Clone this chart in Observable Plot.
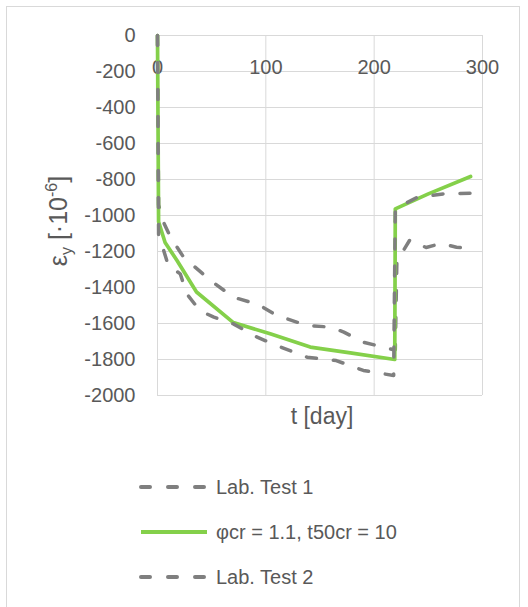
<!DOCTYPE html>
<html>
<head>
<meta charset="utf-8">
<script src="https://cdn.jsdelivr.net/npm/d3@7"></script>
<script src="https://cdn.jsdelivr.net/npm/@observablehq/plot@0.6"></script>
<style>
  html, body { margin: 0; padding: 0; background: #fff; }
  #wrap { position: relative; width: 528px; height: 607px; overflow: hidden; font-family: "Liberation Sans", Arial, sans-serif; color: #595959; }
  #frame { position: absolute; left: 6px; top: 6px; width: 514px; height: 620px; border: 1px solid #d9d9d9; box-sizing: border-box; }
  #chart { position: absolute; left: 0; top: 0; }
  #legend { position: absolute; left: 139px; top: 470px; }
  .row { position: absolute; left: 0; height: 34px; white-space: nowrap; }
  .row svg { position: absolute; left: 0; top: 0; }
  .row span { position: absolute; left: 77px; top: 5px; font-size: 20px; line-height: 24px; }
</style>
</head>
<body>
<div id="wrap">
  <div id="frame"></div>
  <div id="chart"></div>
  <div id="legend"></div>
</div>
<script>
// ---- data (t in days, strain in 1e-6) ----
const test1T = [0, 0.5, 1, 5, 12, 24, 49, 70, 85, 92, 110, 138, 160, 172, 190, 218, 219.5, 221, 227, 233, 248, 262, 276, 283];
const test1V = [0, -500, -940, -1030, -1120, -1231, -1361, -1454, -1480, -1491, -1555, -1611, -1620, -1648, -1704, -1746, -1746, -1240, -1194, -1135, -1178, -1155, -1176, -1180];

const modelT = [0, 0.5, 1, 7, 18, 36, 70, 104, 141, 178, 219, 219.5, 250, 289];
const modelV = [0, -500, -1035, -1150, -1250, -1425, -1595, -1657, -1731, -1763, -1800, -963, -880, -783];

const test2T = [0, 0.5, 1, 6, 10, 21, 27, 39, 52, 70, 92, 110, 138, 165, 190, 218, 219.5, 240, 264, 289];
const test2V = [0, -500, -1110, -1200, -1278, -1324, -1435, -1528, -1565, -1602, -1676, -1722, -1787, -1806, -1861, -1889, -963, -898, -880, -876];

const seriesNames = ["Lab. Test 1", "φcr = 1.1, t50cr = 10", "Lab. Test 2"];
const xTicks = [0, 100, 200, 300];
const yTicks = [0, -200, -400, -600, -800, -1000, -1200, -1400, -1600, -1800, -2000];

const toRows = (ts, vs, name) => ts.map((t, i) => ({t, v: vs[i], name}));
const test1 = toRows(test1T, test1V, seriesNames[0]);
const model = toRows(modelT, modelV, seriesNames[1]);
const test2 = toRows(test2T, test2V, seriesNames[2]);

const grey = "#7f7f7f";
const green = "#84d04a";
const dash = "10,17";

const chart = Plot.plot({
  width: 528,
  height: 440,
  marginLeft: 157,
  marginRight: 46,
  marginTop: 35,
  marginBottom: 45,
  style: {fontFamily: "Liberation Sans, Arial, sans-serif", fontSize: "20px", color: "#595959", background: "transparent"},
  x: {domain: [0, 300]},
  y: {domain: [-2000, 0]},
  marks: [
    Plot.gridX(xTicks, {stroke: "#d9d9d9", strokeOpacity: 1, strokeWidth: 1}),
    Plot.gridY(yTicks, {stroke: "#d9d9d9", strokeOpacity: 1, strokeWidth: 1}),
    Plot.axisY(yTicks, {tickSize: 0, tickPadding: 22, label: null, tickFormat: d => d === 0 ? "0" : String(d)}),
    Plot.axisX(xTicks, {anchor: "top", tickSize: 0, tickPadding: 0, label: null, dy: 38}),
    Plot.line(test1, {x: "t", y: "v", stroke: grey, strokeWidth: 3.5, strokeDasharray: dash, strokeLinecap: "round", strokeLinejoin: "round", curve: "linear"}),
    Plot.line(model, {x: "t", y: "v", stroke: green, strokeWidth: 3.7, strokeLinejoin: "round"}),
    Plot.line(test2, {x: "t", y: "v", stroke: grey, strokeWidth: 3.5, strokeDasharray: dash, strokeLinecap: "round", strokeLinejoin: "round", curve: "linear"})
  ]
});
document.getElementById("chart").appendChild(chart);

// axis titles
const svg = d3.select(chart);
svg.append("text")
  .attr("x", 322).attr("y", 418)
  .attr("text-anchor", "middle").attr("dominant-baseline", "middle")
  .attr("fill", "#595959").attr("font-size", 23)
  .text("t [day]");

const yt = svg.append("text")
  .attr("transform", "translate(67,221) rotate(-90)")
  .attr("text-anchor", "middle")
  .attr("fill", "#595959").attr("font-size", 25);
yt.append("tspan").text("ε");
yt.append("tspan").attr("font-size", 16).attr("dy", 5).text("y");
yt.append("tspan").attr("dy", -5).text(" [·10");
yt.append("tspan").attr("font-size", 16).attr("dy", -10).text("-6");
yt.append("tspan").attr("dy", 10).text("]");

// legend
const legendStyles = [
  {stroke: grey, dash: dash},
  {stroke: green, dash: null},
  {stroke: grey, dash: dash}
];
const legend = d3.select("#legend");
seriesNames.forEach((name, i) => {
  const row = legend.append("div").attr("class", "row").style("top", (i * 45) + "px");
  const s = row.append("svg").attr("width", 72).attr("height", 34);
  const ln = s.append("line").attr("x1", 2).attr("x2", 68).attr("y1", 17).attr("y2", 17)
    .attr("stroke", legendStyles[i].stroke).attr("stroke-width", 4)
    .attr("stroke-linecap", legendStyles[i].dash ? "round" : "butt");
  if (legendStyles[i].dash) ln.attr("stroke-dasharray", "9,18");
  row.append("span").text(name);
});
</script>
</body>
</html>
